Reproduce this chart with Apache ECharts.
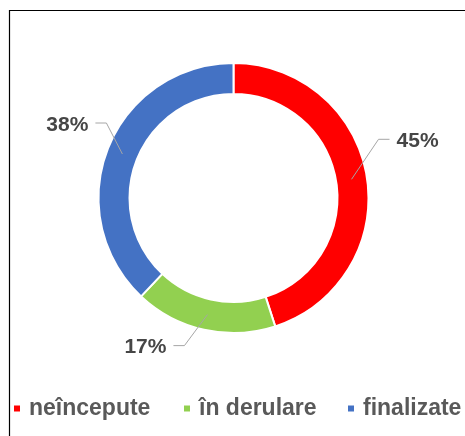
<!DOCTYPE html>
<html>
<head>
<meta charset="utf-8">
<script src="https://cdn.jsdelivr.net/npm/echarts@6/dist/echarts.min.js"></script>
<style>html,body{margin:0;padding:0;background:#fff}#c{width:465px;height:436px}</style>
</head>
<body>
<div id="c"></div>
<script>
var categories = ['neîncepute', 'în derulare', 'finalizate'];
var values = [45, 17, 38];
var colors = ['#FF0000', '#92D050', '#4472C4'];

var CX = 233.5, CY = 198, R0 = 104, R1 = 135;
// label guide layout (elbow offsets from ring middle, direction of text)
var elbow = [[27, -40, 1], [-23, 31, -1], [-16, -31, -1]];

var total = values.reduce(function (a, b) { return a + b; }, 0);
function midAngle(i) {
  var s = 0;
  for (var k = 0; k < i; k++) s += values[k];
  var a = 90 - (s + values[i] / 2) / total * 360;
  return a * Math.PI / 180;
}

var pieData = categories.map(function (c, i) { return {name: c, value: values[i]}; });

var chart = echarts.init(document.getElementById('c'), null, {renderer: 'canvas'});
var option = {
  backgroundColor: '#fff',
  animation: false,
  color: colors,
  graphic: [{
    type: 'rect', silent: true,
    shape: {x: 9.5, y: 10.5, width: 600, height: 600},
    style: {fill: 'none', stroke: '#000', lineWidth: 1.2}
  }],
  legend: categories.map(function (c, i) {
    return {
      data: [c],
      left: [12, 182, 346][i],
      top: 397,
      padding: 0,
      itemWidth: 8, itemHeight: 8,
      icon: 'rect',
      selectedMode: false,
      textStyle: {fontFamily: 'Liberation Sans', fontWeight: 'bold', fontSize: 23, color: '#595959', padding: [0, 0, 0, 3]}
    };
  }),
  series: [{
    type: 'pie',
    z: 2,
    center: [CX, CY],
    radius: [R0, R1],
    startAngle: 90,
    clockwise: true,
    avoidLabelOverlap: false,
    itemStyle: {borderColor: '#fff', borderWidth: 2},
    label: {show: false},
    labelLine: {show: false},
    data: pieData
  }, {
    type: 'pie',
    z: 3,
    silent: true,
    legendHoverLink: false,
    center: [CX, CY],
    radius: [R0, R1],
    startAngle: 90,
    clockwise: true,
    avoidLabelOverlap: false,
    itemStyle: {color: 'rgba(0,0,0,0)', borderWidth: 0},
    label: {
      show: true,
      formatter: '{d}%',
      fontFamily: 'Liberation Sans', fontWeight: 'bold', fontSize: 21, color: '#464646'
    },
    labelLine: {show: true, lineStyle: {color: '#A6A6A6', width: 1}},
    labelLayout: function (p) {
      var i = p.dataIndex;
      var a = midAngle(i);
      var rm = (R0 + R1) / 2;
      var sx = CX + rm * Math.cos(a), sy = CY - rm * Math.sin(a);
      var ex = sx + elbow[i][0], ey = sy + elbow[i][1];
      var dir = elbow[i][2];
      var hx = ex + dir * 11;
      return {
        x: hx + dir * 7,
        y: ey + 2,
        align: dir > 0 ? 'left' : 'right',
        verticalAlign: 'middle',
        labelLinePoints: [[sx, sy], [ex, ey], [hx, ey]]
      };
    },
    data: pieData
  }]
};
chart.setOption(option);
</script>
</body>
</html>
